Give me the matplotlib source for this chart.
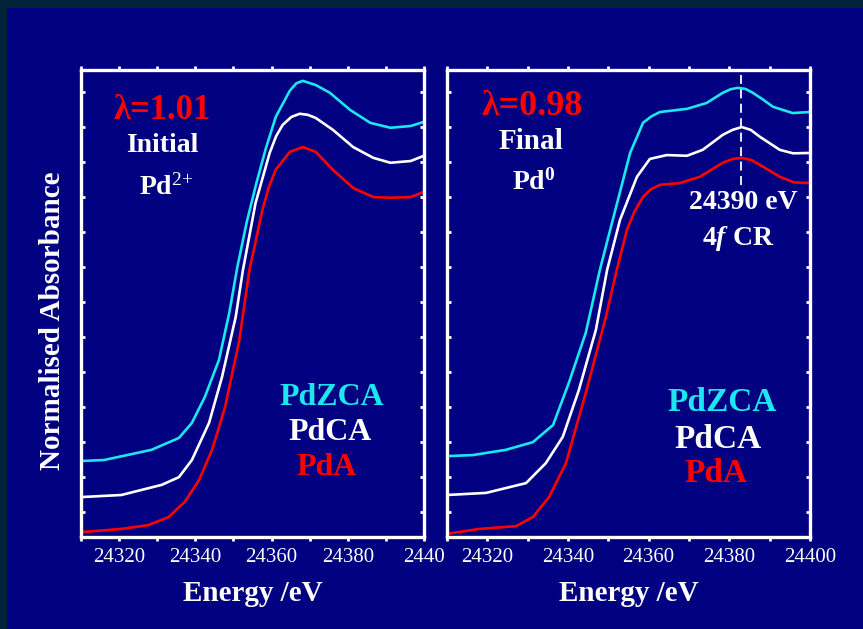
import matplotlib.pyplot as plt
from matplotlib.patches import Rectangle
from matplotlib.ticker import MultipleLocator

plt.rcParams["font.family"] = ["Liberation Serif", "DejaVu Serif"]
plt.rcParams["mathtext.fontset"] = "custom"
plt.rcParams["mathtext.rm"] = "Liberation Serif"
plt.rcParams["mathtext.bf"] = "Liberation Serif:bold"
plt.rcParams["mathtext.it"] = "Liberation Serif:italic"
plt.rcParams["mathtext.bfit"] = "Liberation Serif:bold:italic"

NAVY = "#000080"
CYAN = "#1ee6f0"
RED = "#ff0000"

# initial state (Pd2+)
e_init_zca = [24310, 24316.1, 24328.5, 24335.7, 24339.1, 24342.5, 24346.2, 24348.9, 24351.0,
              24353.5, 24356.0, 24358.5, 24361.1, 24364.8, 24366.5, 24368.2, 24371.6,
              24375.3, 24380.6, 24385.9, 24391.2, 24396.5, 24400]
a_init_zca = [0.217, 0.220, 0.249, 0.283, 0.326, 0.400, 0.506, 0.640, 0.770,
              0.900, 1.010, 1.110, 1.200, 1.275, 1.296, 1.303, 1.291,
              1.269, 1.220, 1.183, 1.169, 1.174, 1.186]
e_init_ca = [24310, 24320.6, 24331.2, 24335.7, 24339.1, 24343.6, 24347.0, 24350.6, 24352.5,
             24355.8, 24359.5, 24361.2, 24362.9, 24365.2, 24367.4, 24369.5, 24371.6,
             24376.1, 24381.4, 24386.7, 24391.2, 24396.5, 24400]
a_init_ca = [0.114, 0.120, 0.149, 0.171, 0.220, 0.326, 0.457, 0.629, 0.763,
             0.954, 1.097, 1.145, 1.177, 1.200, 1.209, 1.206, 1.197,
             1.163, 1.114, 1.083, 1.069, 1.074, 1.089]
e_init_a = [24310, 24320.6, 24327.7, 24333.0, 24337.2, 24341.0, 24344.4, 24347.8, 24351.5,
            24354.2, 24357.6, 24359.3, 24361.1, 24364.8, 24368.2, 24371.6, 24376.1,
            24381.4, 24386.7, 24391.2, 24396.5, 24400]
a_init_a = [0.014, 0.023, 0.034, 0.057, 0.100, 0.163, 0.249, 0.371, 0.560,
            0.763, 0.934, 1.000, 1.049, 1.100, 1.114, 1.100, 1.049,
            0.997, 0.971, 0.969, 0.971, 0.986]

# final state (Pd0)
e_fin_zca = [24310, 24316.4, 24324.6, 24331.3, 24336.3, 24340.2, 24344.4, 24347.9, 24351.1,
             24355.4, 24358.6, 24360.6, 24362.8, 24369.5, 24374.4, 24378.4, 24380.3,
             24382.1, 24384.0, 24385.8, 24388.3, 24390.8, 24395.7, 24400]
a_fin_zca = [0.231, 0.234, 0.249, 0.271, 0.320, 0.440, 0.583, 0.763, 0.906,
             1.097, 1.183, 1.201, 1.214, 1.223, 1.240, 1.269, 1.279,
             1.283, 1.280, 1.269, 1.250, 1.229, 1.211, 1.214]
e_fin_ca = [24310, 24319.7, 24329.6, 24334.5, 24338.7, 24342.7, 24346.9, 24349.7, 24352.9,
            24357.1, 24360.3, 24364.5, 24369.5, 24373.4, 24378.4, 24380.8, 24383.1,
            24385.3, 24387.6, 24392.5, 24395.8, 24400]
a_fin_ca = [0.120, 0.126, 0.154, 0.211, 0.286, 0.420, 0.591, 0.763, 0.906,
            1.029, 1.080, 1.091, 1.089, 1.106, 1.149, 1.163, 1.171,
            1.163, 1.143, 1.106, 1.096, 1.097]
e_fin_a = [24310, 24317.9, 24327.1, 24331.3, 24335.3, 24339.5, 24344.4, 24349.4, 24352.1,
           24354.6, 24356.5, 24358.6, 24360.5, 24362.8, 24367.7, 24372.7, 24378.4,
           24380.8, 24383.1, 24385.4, 24387.6, 24392.5, 24396.0, 24400]
a_fin_a = [0.009, 0.023, 0.031, 0.057, 0.114, 0.211, 0.411, 0.629, 0.763,
           0.877, 0.930, 0.971, 0.993, 1.006, 1.011, 1.029, 1.069,
           1.080, 1.083, 1.077, 1.063, 1.029, 1.013, 1.011]

cr_energy = 24383.0
cr_bottom = 1.006

init_ticklabels = ["24320", "24340", "24360", "24380", "2440"]
fin_ticklabels = ["24320", "24340", "24360", "24380", "24400"]

fig = plt.figure(figsize=(8.63, 6.29), dpi=100, facecolor="#012438")
fig.patches.append(Rectangle((7 / 863, 0), 1, 1 - 8 / 629, transform=fig.transFigure,
                             facecolor=NAVY, edgecolor="none", zorder=-10))

W, H = 863, 629
ax1 = fig.add_axes([81 / W, (H - 537) / H, 343 / W, 467 / H])
ax2 = fig.add_axes([447 / W, (H - 537) / H, 363 / W, 467 / H])


def style(ax, labels):
    ax.set_facecolor(NAVY)
    ax.set_xlim(24310, 24400)
    ax.set_ylim(0, 1.334)
    for s in ax.spines.values():
        s.set_color("white")
        s.set_linewidth(2.4)
    ax.xaxis.set_minor_locator(MultipleLocator(10))
    ax.set_xticks([24320, 24340, 24360, 24380, 24400])
    ax.set_xticklabels(labels)
    ax.yaxis.set_major_locator(MultipleLocator(0.1, offset=0.07))
    ax.set_yticklabels([])
    ax.tick_params(axis="x", which="both", direction="out", length=3, width=2,
                   colors="white", labelsize=15, pad=5, top=True)
    ax.tick_params(axis="y", which="both", direction="in", length=3, width=2,
                   colors="white", right=True)
    ax.text(0.5, -0.12, "Energy /eV", transform=ax.transAxes, ha="center", va="center",
            color="white", fontsize=21, fontweight="bold")


style(ax1, init_ticklabels)
style(ax2, fin_ticklabels)

lw = 1.9
ax1.plot(e_init_zca, a_init_zca, color=CYAN, lw=lw)
ax1.plot(e_init_ca, a_init_ca, color="white", lw=lw)
ax1.plot(e_init_a, a_init_a, color=RED, lw=lw)

ax2.plot(e_fin_zca, a_fin_zca, color=CYAN, lw=lw)
ax2.plot(e_fin_ca, a_fin_ca, color="white", lw=lw)
ax2.plot(e_fin_a, a_fin_a, color=RED, lw=lw)
ax2.plot([cr_energy, cr_energy], [cr_bottom, 1.32], color="white", lw=1.3,
         linestyle=(0, (5, 3)))

# panel annotations
ax1.text(0.238, 0.914, "λ=1.01", transform=ax1.transAxes, ha="center", va="center",
         color=RED, fontsize=25, fontweight="bold")
ax1.text(0.238, 0.839, "Initial", transform=ax1.transAxes, ha="center", va="center",
         color="white", fontsize=20, fontweight="bold")
ax1.text(0.248, 0.749, r"Pd$^{\mathrm{2{+}}}$", transform=ax1.transAxes, ha="center",
         va="center", color="white", fontsize=20, fontweight="bold")

ax2.text(0.234, 0.921, "λ=0.98", transform=ax2.transAxes, ha="center", va="center",
         color=RED, fontsize=26, fontweight="bold")
ax2.text(0.231, 0.846, "Final", transform=ax2.transAxes, ha="center", va="center",
         color="white", fontsize=21, fontweight="bold")
ax2.text(0.24, 0.760, r"Pd$^{\mathbf{0}}$", transform=ax2.transAxes, ha="center",
         va="center", color="white", fontsize=20, fontweight="bold")
ax2.text(0.815, 0.717, "24390 eV", transform=ax2.transAxes, ha="center", va="center",
         color="white", fontsize=20, fontweight="bold")
ax2.text(0.802, 0.640, r"4$\mathbfit{f}$ CR", transform=ax2.transAxes, ha="center",
         va="center", color="white", fontsize=20, fontweight="bold")

# sample names
for ax, pos, fs in ((ax1, [(0.732, 0.298), (0.726, 0.223), (0.717, 0.148)], 23),
                    (ax2, [(0.758, 0.287), (0.747, 0.208), (0.741, 0.137)], 24)):
    for (x, y), name, c in zip(pos, ["PdZCA", "PdCA", "PdA"], [CYAN, "white", RED]):
        ax.text(x, y, name, transform=ax.transAxes, ha="center", va="center",
                color=c, fontsize=fs, fontweight="bold")

fig.text(53 / W, 1 - 321 / H, "Normalised Absorbance", rotation=90, ha="center",
         va="center", color="white", fontsize=21, fontweight="bold")

fig.savefig("out.png", dpi=100, facecolor=fig.get_facecolor())
